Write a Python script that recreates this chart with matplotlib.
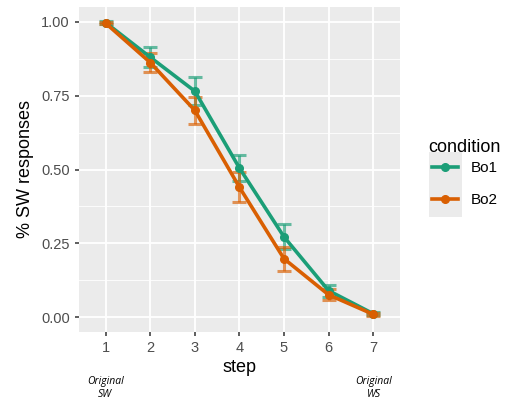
import matplotlib
matplotlib.use("Agg")
import matplotlib.pyplot as plt
from matplotlib.lines import Line2D
from matplotlib.patches import Rectangle

plt.rcParams["font.family"] = ["Liberation Sans", "DejaVu Sans"]

steps = [1, 2, 3, 4, 5, 6, 7]
bo1 = [0.997, 0.880, 0.765, 0.505, 0.272, 0.090, 0.012]
bo1_err = [0.004, 0.033, 0.048, 0.045, 0.042, 0.020, 0.006]
bo2 = [0.995, 0.862, 0.700, 0.440, 0.198, 0.076, 0.010]
bo2_err = [0.004, 0.032, 0.047, 0.050, 0.040, 0.018, 0.006]
conditions = ["Bo1", "Bo2"]
colors = ["#1B9E77", "#D95F02"]
yticks = [0.00, 0.25, 0.50, 0.75, 1.00]
yticklabels = ["0.00", "0.25", "0.50", "0.75", "1.00"]

fig = plt.figure(figsize=(5.16, 4.0), dpi=100)
ax = fig.add_axes([0.153, 0.17, 0.622, 0.8125])
ax.set_facecolor("#EBEBEB")
for s in ax.spines.values():
    s.set_visible(False)

ax.set_xlim(0.4, 7.6)
ax.set_ylim(-0.05, 1.05)
ax.set_xticks(steps)
ax.set_yticks(yticks)
ax.set_yticklabels(yticklabels)
ax.set_yticks([0.125, 0.375, 0.625, 0.875], minor=True)
ax.grid(which="major", color="white", linewidth=1.3)
ax.grid(which="minor", color="white", linewidth=0.6)
ax.set_axisbelow(True)
ax.tick_params(axis="both", which="major", colors="#333333", labelcolor="#4D4D4D",
               labelsize=10.5, length=3, width=1.1)
ax.tick_params(axis="both", which="minor", length=0)

for vals, errs, col in zip([bo1, bo2], [bo1_err, bo2_err], colors):
    ax.errorbar(steps, vals, yerr=errs, fmt="none", ecolor=col, alpha=0.65,
                elinewidth=2.2, capsize=5, capthick=2.2, zorder=3)
    ax.plot(steps, vals, color=col, linewidth=2.6, marker="o", markersize=5.5, zorder=4)

ax.set_xlabel("step", fontsize=13, color="black", labelpad=3)
ax.set_ylabel("% SW responses", fontsize=13, color="black", labelpad=5)

# legend key background
fig.patches.append(Rectangle((429 / 516, 1 - 217 / 400), 33 / 516, 65 / 400,
                             transform=fig.transFigure, facecolor="#EBEBEB",
                             edgecolor="none", zorder=0))

fig.text(428 / 516, 1 - 148 / 400, "condition", ha="left", va="center",
         fontsize=13, color="black")
handles = [Line2D([0], [0], color=c, linewidth=2.6, marker="o", markersize=5.5) for c in colors]
leg = fig.legend(handles, conditions, loc="upper left",
                 bbox_to_anchor=(432 / 516, 1 - 161 / 400), frameon=False, fontsize=11,
                 borderpad=0, borderaxespad=0, handlelength=1.7, labelspacing=1.2,
                 handletextpad=0.85)

fig.text(0.204, 0.03, "Original\nSW", ha="center", va="center", fontsize=7.5,
         style="italic", family="Open Sans", linespacing=1.15)
fig.text(0.725, 0.03, "Original\nWS", ha="center", va="center", fontsize=7.5,
         style="italic", family="Open Sans", linespacing=1.15)

fig.savefig("out.png", dpi=100, facecolor="white")
